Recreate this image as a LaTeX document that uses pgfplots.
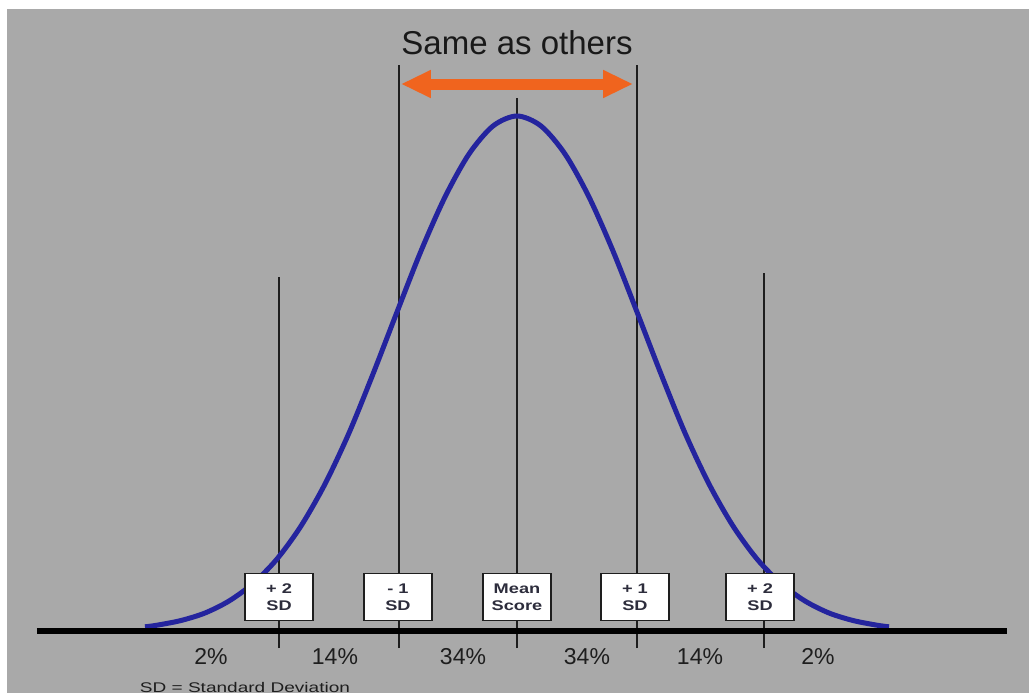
\documentclass[border=0pt]{standalone}
\usepackage{pgfplots}
\pgfplotsset{compat=1.18}
\usepackage{fontspec}
\setmainfont{Liberation Sans}
\usetikzlibrary{arrows.meta}
\definecolor{bg}{RGB}{169,169,169}
\definecolor{curve}{RGB}{36,36,158}
\definecolor{arrowc}{RGB}{240,100,30}
\definecolor{ink}{RGB}{30,30,30}
\definecolor{boxtext}{RGB}{45,45,60}

% x in standard deviations, y in pixels above the baseline
\pgfplotstableread{
x     y
-3.1  4.2
-3.0  5.8
-2.8  10.5
-2.6  18.0
-2.4  30.0
-2.2  47.5
-2.0  72.0
-1.8  105.0
-1.6  147.0
-1.4  198.0
-1.2  257.0
-1.0  319.0
-0.8  380.0
-0.6  434.0
-0.4  477.0
-0.2  505.0
 0.0  515.0
 0.2  505.0
 0.4  477.0
 0.6  434.0
 0.8  380.0
 1.0  319.0
 1.2  257.0
 1.4  198.0
 1.6  147.0
 1.8  105.0
 2.0  72.0
 2.2  47.5
 2.4  30.0
 2.6  18.0
 2.8  10.5
 3.0  5.8
 3.1  4.2
}\bellcurve

\newcommand{\wide}[1]{\scalebox{1.3}[1]{#1}}

\begin{document}
\begin{tikzpicture}
\begin{axis}[
    scale only axis,
    width=514.5pt, height=346.5pt,
    xmin=-4.3083, xmax=4.2667,
    ymin=-62, ymax=631,
    hide axis,
    clip=false,
]
% background
\fill[white] (axis cs:-4.3083,-62) rectangle (axis cs:4.2667,631);
\fill[bg] (axis cs:-4.25,-62) rectangle (axis cs:4.2667,622);

% vertical SD lines
\addplot[ink, line width=1pt] coordinates {(-1.983,-17)(-1.983,354)};
\addplot[ink, line width=1pt] coordinates {(-0.983,-17)(-0.983,566)};
\addplot[ink, line width=1pt] coordinates {(0,-17)(0,533)};
\addplot[ink, line width=1pt] coordinates {(1.0,-17)(1.0,566)};
\addplot[ink, line width=1pt] coordinates {(2.058,-17)(2.058,358)};

% the curve
\addplot[curve, line width=2.5pt, smooth] table[x=x, y=y] {\bellcurve};

% baseline
\addplot[black, line width=3pt] coordinates {(-4.0,0)(4.083,0)};

% boxes
\tikzset{sdbox/.style={draw=ink, fill=white, line width=0.75pt,
    minimum width=34pt, minimum height=23.5pt, inner sep=0pt,
    align=center, text=boxtext,
    font=\fontsize{7}{8.5}\selectfont\bfseries}}
\node[sdbox] at (axis cs:-1.983,34) {\wide{+ 2}\\\wide{SD}};
\node[sdbox] at (axis cs:-0.992,34) {\wide{- 1}\\\wide{SD}};
\node[sdbox] at (axis cs:0,34) {\wide{Mean}\\\wide{Score}};
\node[sdbox] at (axis cs:0.983,34) {\wide{+ 1}\\\wide{SD}};
\node[sdbox] at (axis cs:2.025,34) {\wide{+ 2}\\\wide{SD}};

% percentages
\tikzset{pct/.style={text=ink, font=\fontsize{11.5}{13}\selectfont}}
\node[pct] at (axis cs:-2.55,-26) {2\%};
\node[pct] at (axis cs:-1.517,-26) {14\%};
\node[pct] at (axis cs:-0.45,-26) {34\%};
\node[pct] at (axis cs:0.583,-26) {34\%};
\node[pct] at (axis cs:1.525,-26) {14\%};
\node[pct] at (axis cs:2.508,-26) {2\%};

% footnote
\node[text=ink, font=\fontsize{7}{8}\selectfont] at (axis cs:-2.267,-56)
    {\scalebox{1.36}[1]{SD = Standard Deviation}};

% title and arrow
\node[text=black!90, font=\fontsize{16.5}{18}\selectfont] at (axis cs:0,588) {Same as others};
\draw[arrowc, line width=5.5pt,
    {Triangle[length=15pt, width=13pt]}-{Triangle[length=15pt, width=13pt]}]
    (axis cs:-0.967,547) -- (axis cs:0.967,547);
\end{axis}
\pgfresetboundingbox
\path (current axis.south west) rectangle (current axis.north east);
\end{tikzpicture}
\end{document}
